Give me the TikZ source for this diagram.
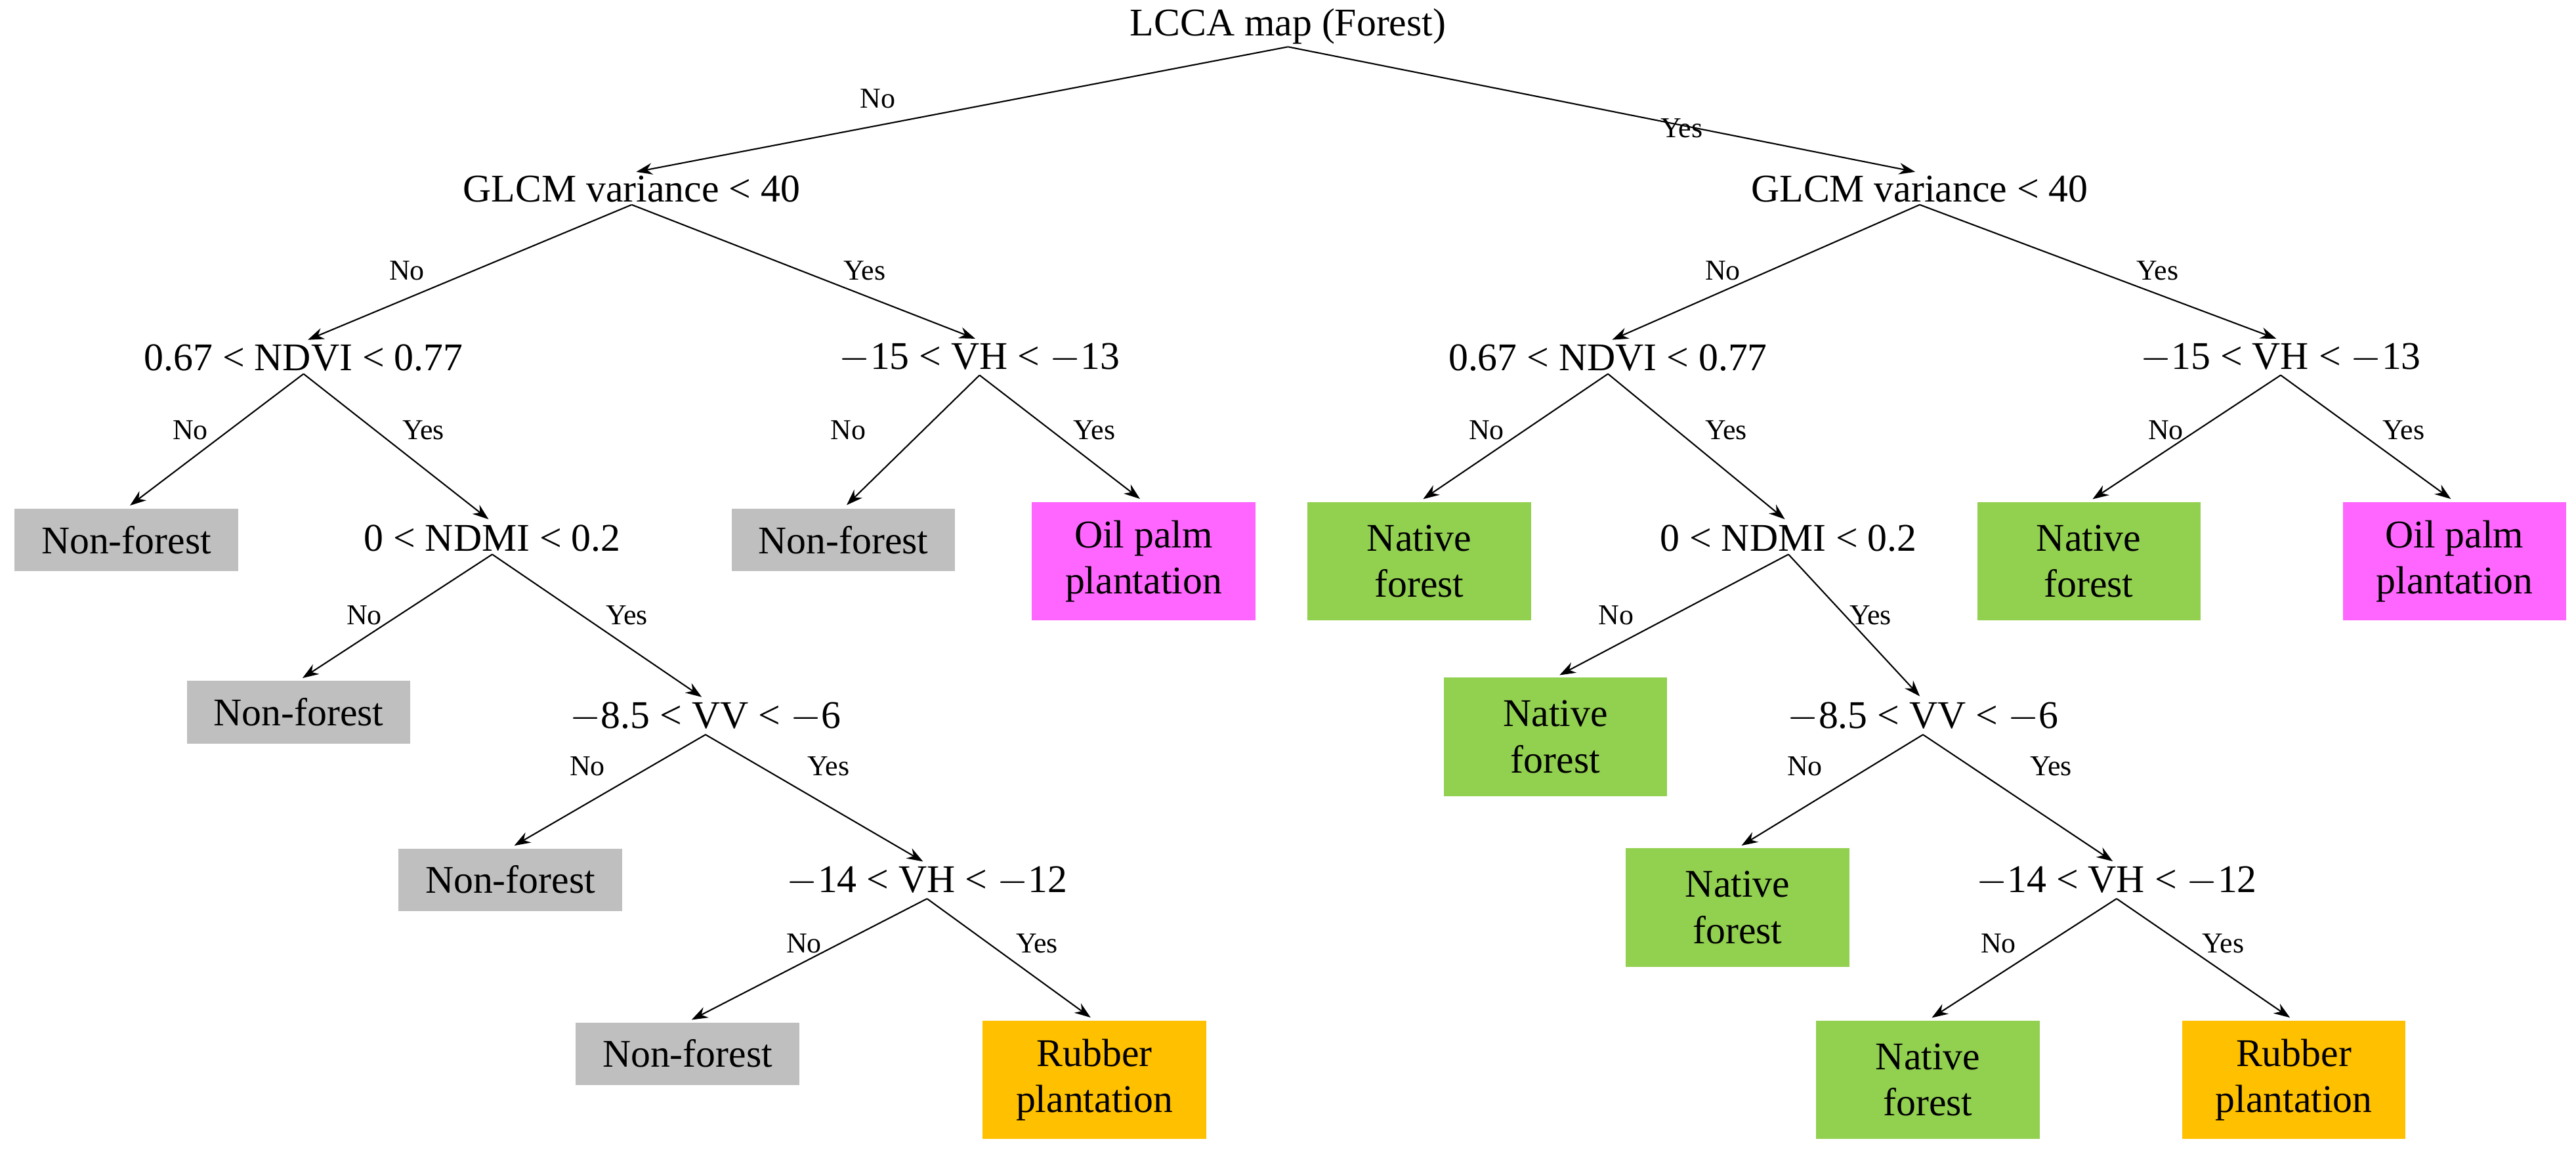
\documentclass[tikz,border=0pt]{standalone}
\usepackage{fontspec}
\setmainfont{Liberation Serif}
\usetikzlibrary{arrows.meta}
\begin{document}
\begin{tikzpicture}[x=0.025cm,y=-0.025cm,
  t/.style={font=\fontsize{17}{19}\selectfont,inner sep=1pt},
  bx/.style={font=\fontsize{17}{20}\selectfont,minimum width=3.4cm,align=center,inner sep=1pt},
  one/.style={bx,minimum height=0.95cm},
  two/.style={bx,minimum height=1.8cm},
  gray/.style={fill=gray!50},
  green/.style={fill=green92},
  pink/.style={fill=pink66},
  orange/.style={fill=orangeC0},
  lb/.style={font=\fontsize{12.5}{14}\selectfont,inner sep=0pt},
  a/.style={-{Stealth[length=7pt,width=5pt]},line width=0.6pt,shorten >=2pt}]
\definecolor{green92}{HTML}{92D050}
\definecolor{pink66}{HTML}{FF66FF}
\definecolor{orangeC0}{HTML}{FFC000}
\useasboundingbox (0,0) rectangle (1570,703);
\node[t] (root) at (785,16) {LCCA map (Forest)};
% left
\node[t] (g1) at (385,115) {GLCM variance < 40};
\node[t] (n1) at (185,218) {0.67 < NDVI < 0.77};
\node[t] (h1) at (597,218) {$-$15 < VH < $-$13};
\node[one,gray] (b1) at (77,329) {Non-forest};
\node[t] (m1) at (300,328) {0 < NDMI < 0.2};
\node[one,gray] (b2) at (182,434) {Non-forest};
\node[t] (v1) at (430,437) {$-$8.5 < VV < $-$6};
\node[one,gray] (b3) at (311,536) {Non-forest};
\node[t] (k1) at (565,537) {$-$14 < VH < $-$12};
\node[one,gray] (b4) at (419,642) {Non-forest};
\node[two,orange] (r1) at (667,658) {Rubber\\plantation};
\node[one,gray] (b5) at (514,329) {Non-forest};
\node[two,pink] (o1) at (697,342) {Oil palm\\plantation};
% right
\node[t] (g2) at (1170,115) {GLCM variance < 40};
\node[t] (n2) at (980,218) {0.67 < NDVI < 0.77};
\node[t] (h2) at (1390,218) {$-$15 < VH < $-$13};
\node[two,green] (c1) at (865,342) {Native\\forest};
\node[t] (m2) at (1090,328) {0 < NDMI < 0.2};
\node[two,green] (c2) at (948,449) {Native\\forest};
\node[t] (v2) at (1172,437) {$-$8.5 < VV < $-$6};
\node[two,green] (c3) at (1059,553) {Native\\forest};
\node[t] (k2) at (1290,537) {$-$14 < VH < $-$12};
\node[two,green] (c4) at (1175,658) {Native\\forest};
\node[two,orange] (r2) at (1398,658) {Rubber\\plantation};
\node[two,green] (c5) at (1273,342) {Native\\forest};
\node[two,pink] (o2) at (1496,342) {Oil palm\\plantation};
% edges
\foreach \p/\c in {root/g1,root/g2,g1/n1,g1/h1,n1/b1,n1/m1,m1/b2,m1/v1,v1/b3,v1/k1,k1/b4,k1/r1,h1/b5,h1/o1,
  g2/n2,g2/h2,n2/c1,n2/m2,m2/c2,m2/v2,v2/c3,v2/k2,k2/c4,k2/r2,h2/c5,h2/o2}
  \draw[a] (\p.south) -- (\c.north);
% labels
\node[lb] (l1) at (535,60) {No};
\node[lb] (l2) at (1025,78) {Yes};
\node[lb] (l3) at (248,165) {No};
\node[lb] (l4) at (527,165) {Yes};
\node[lb] (l5) at (116,262) {No};
\node[lb] (l6) at (258,262) {Yes};
\node[lb] (l7) at (222,375) {No};
\node[lb] (l8) at (382,375) {Yes};
\node[lb] (l9) at (358,467) {No};
\node[lb] (l10) at (505,467) {Yes};
\node[lb] (l11) at (490,575) {No};
\node[lb] (l12) at (632,575) {Yes};
\node[lb] (l13) at (517,262) {No};
\node[lb] (l14) at (667,262) {Yes};
\node[lb] (l15) at (1050,165) {No};
\node[lb] (l16) at (1315,165) {Yes};
\node[lb] (l17) at (906,262) {No};
\node[lb] (l18) at (1052,262) {Yes};
\node[lb] (l19) at (985,375) {No};
\node[lb] (l20) at (1140,375) {Yes};
\node[lb] (l21) at (1100,467) {No};
\node[lb] (l22) at (1250,467) {Yes};
\node[lb] (l23) at (1218,575) {No};
\node[lb] (l24) at (1355,575) {Yes};
\node[lb] (l25) at (1320,262) {No};
\node[lb] (l26) at (1465,262) {Yes};
\end{tikzpicture}
\end{document}
